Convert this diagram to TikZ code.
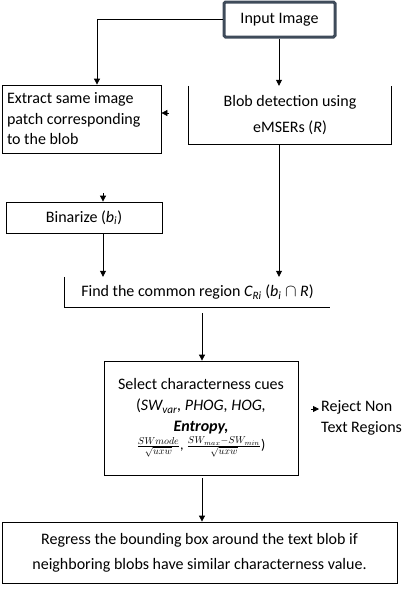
\documentclass[tikz,border=0pt]{standalone}
\usepackage{amsmath,amssymb}
\usepackage{fontspec}
\setmainfont{Carlito}
\usetikzlibrary{positioning,arrows.meta}
\definecolor{slate}{RGB}{63,75,90}
\tikzset{
    box/.style={draw, line width=0.8pt, inner sep=0pt, font=\fontsize{16}{21}\selectfont},
    plain/.style={inner sep=0pt, font=\fontsize{16}{21}\selectfont},
    start/.style={box, draw=slate, line width=3pt, rounded corners=1.5pt},
    arrow/.style={draw, line width=0.8pt, -{Triangle[width=6pt,length=6pt]}},
}

\begin{document}
\begin{tikzpicture}[x=1pt, y=-1pt]
    \useasboundingbox (0,0) rectangle (418,590);

    \node[start, minimum width=111, minimum height=35] (input) at (279.5,19.5) {Input Image};

    \node[box, minimum height=68, text width=149, inner xsep=5pt, align=flush left,
          font=\fontsize{16}{20.5}\selectfont] (extract) at (81.5,119)
        {Extract same image\\ patch corresponding\\ to the blob};
    \node[plain, minimum width=202, minimum height=58, align=center,
          font=\fontsize{16}{26}\selectfont] (blob) at (290,115)
        {Blob detection using\\ eMSERs (\textit{R})};
    \draw[line width=0.8pt] (blob.north west) -- (blob.south west) -- (blob.south east) -- (blob.north east);

    \node[box, minimum width=156, minimum height=31] (binarize) at (84,217.5)
        {Binarize (\textit{b\textsubscript{i}})};

    \node[plain, minimum width=265, minimum height=30, align=center] (find) at (197.5,292)
        {Find the common region \textit{C\textsubscript{Ri}} (\textit{b\textsubscript{i}} $\cap$ \textit{R})};
    \draw[line width=0.8pt] (find.north west) -- (find.south west) -- (find.south east);

    \node[box, minimum width=194, minimum height=114, align=center,
          font=\fontsize{16}{21}\selectfont] (select) at (201,418)
        {Select characterness cues\\
         (\textit{SW\textsubscript{var}, PHOG, HOG,}\\
         \textbf{\textit{Entropy,}}\\[-3pt]
         {\fontsize{14}{14}\selectfont $\frac{SWmode}{\sqrt{uxw}}$, $\frac{SW_{max}-SW_{min}}{\sqrt{uxw}}$)}};

    \node[plain, align=left, font=\fontsize{16}{21}\selectfont, anchor=west] (reject) at (321,418)
        {Reject Non\\ Text Regions};

    \node[box, minimum width=395, minimum height=61, align=center,
          font=\fontsize{16}{25}\selectfont] (regress) at (199.5,552.5)
        {Regress the bounding box around the text blob if\\
         neighboring blobs have similar characterness value.};

    % connectors
    \coordinate (tipA) at (169,113);
    \coordinate (tipB) at (103,193);
    \coordinate (tipC) at (311,409);
    \draw[arrow] (input.west) -| (extract.north -| 97,0);
    \draw[arrow] (input.south -| 279,0) -- (blob.north -| 279,0);
    \draw[arrow] (tipA) -- (extract.east |- tipA);
    \draw[arrow] (blob.south -| 279,0) -- (find.north -| 279,0);
    \draw[arrow] (tipB) -- (binarize.north -| tipB);
    \draw[arrow] (binarize.south -| 103,0) -- (find.north -| 103,0);
    \draw[arrow, shorten <=6pt] (find.south -| 202,0) -- (select.north -| 202,0);
    \draw[arrow, shorten >=2pt] (tipC) -- (reject.west |- tipC);
    \draw[arrow, shorten <=3pt] (select.south -| 202,0) -- (regress.north -| 202,0);
\end{tikzpicture}
\end{document}
